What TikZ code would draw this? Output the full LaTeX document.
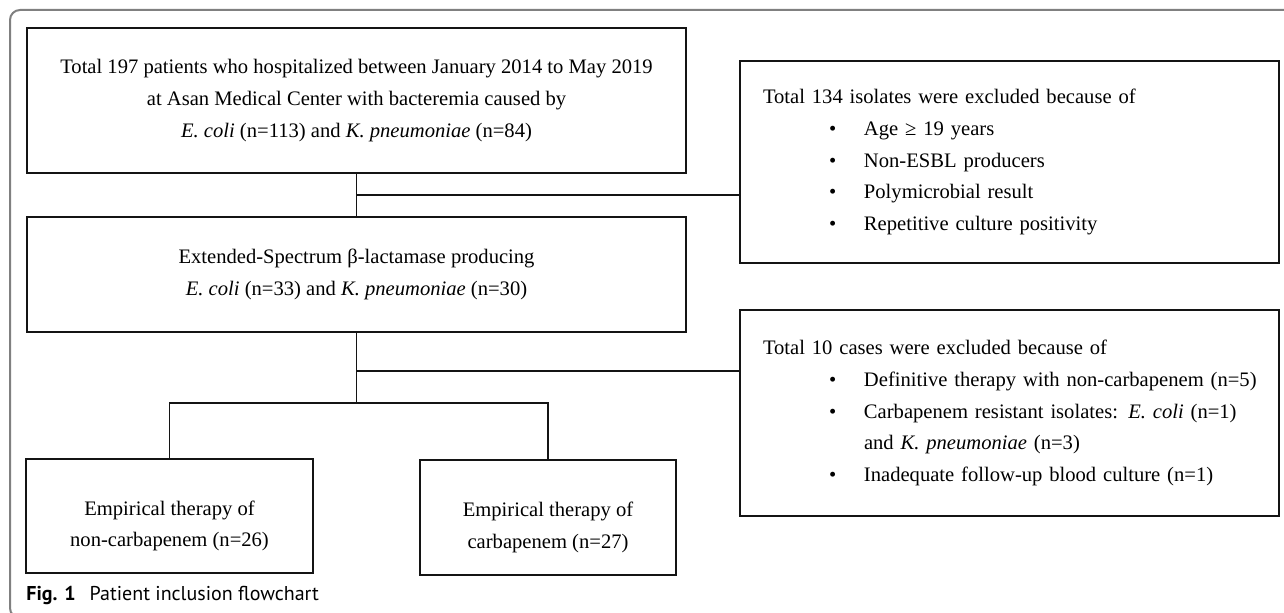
\documentclass[tikz,border=0pt]{standalone}
\usepackage{fontspec}
\setmainfont{Liberation Serif}
\newfontfamily\capfont{PT Sans}
\definecolor{boxcol}{HTML}{141414}
\definecolor{framecol}{HTML}{808080}
\newcommand{\myitem}[1]{\mbox{\makebox[50.5pt][l]{\hspace*{33pt}\textbullet}#1}}
\begin{document}
\begin{tikzpicture}[x=0.5pt,y=-0.5pt,
  txt/.style={font=\fontsize{10.3}{15.9}\selectfont},
  box/.style={draw=boxcol, line width=1.35pt, inner sep=0pt, txt},
  cbox/.style={box, align=center},
  lbox/.style={box, align=left, inner xsep=11.5pt, text width=246.5pt,
    minimum width=269.5pt},
  link/.style={draw=boxcol, line width=0.85pt}]
\clip (0,0) rectangle (1284,613);
\useasboundingbox (0,0) rectangle (1284,613);
\draw[framecol, line width=1pt, rounded corners=5pt] (1300,10) -- (10,10) -- (10,618) -- (1300,618);

\node[cbox, minimum width=329.5pt, minimum height=72.5pt] (b1) at (356.5,100.5)
  {Total 197 patients who hospitalized between January 2014 to May 2019\\
   at Asan Medical Center with bacteremia caused by\\
   \textit{E. coli} (n=113) and \textit{K. pneumoniae} (n=84)};
\node[cbox, minimum width=329.5pt, minimum height=57.5pt] (b2) at (356.5,274.5)
  {Extended-Spectrum β-lactamase producing\\
   \textit{E. coli} (n=33) and \textit{K. pneumoniae} (n=30)};
\node[lbox, minimum height=101pt] (r1) at (1009.5,162)
  {Total 134 isolates were excluded because of\\
   \myitem{Age ≥ 19 years}\\
   \myitem{Non-ESBL producers}\\
   \myitem{Polymicrobial result}\\
   \myitem{Repetitive culture positivity}};
\node[lbox, minimum height=103pt] (r2) at (1009.5,413)
  {Total 10 cases were excluded because of\\
   \myitem{Definitive therapy with non-carbapenem (n=5)}\\
   \myitem{Carbapenem resistant isolates: \textit{E. coli} (n=1)}\\
   \mbox{\hspace*{50.5pt}and \textit{K. pneumoniae} (n=3)}\\
   \myitem{Inadequate follow-up blood culture (n=1)}};
\node[box, minimum width=143.5pt, minimum height=57pt] (b3) at (169.5,516) {};
\node[txt, align=center, inner sep=0pt] (b3t) at (169.5,526)
  {Empirical therapy of\\ non-carbapenem (n=26)};
\node[box, minimum width=128pt, minimum height=57.5pt] (b4) at (548,517.5) {};
\node[txt, align=center, inner sep=0pt] (b4t) at (548,527.5)
  {Empirical therapy of\\ carbapenem (n=27)};

\coordinate (j1) at (b1.south |- 0,195);
\coordinate (j2) at (b2.south |- 0,371);
\coordinate (br) at (b2.south |- 0,403);

\draw[link] (b1.south) -- (b2.north);
\draw[link] (j1) -- (j1 -| r1.west);
\draw[link] (b2.south) -- (br);
\draw[link] (j2) -- (j2 -| r2.west);
\draw[link] (b3.north) -- (b3.north |- br) -- (b4.north |- br) -- (b4.north);

\node[anchor=base west, inner sep=0pt, font=\capfont\fontsize{10}{12}\selectfont] (cap) at (26,601)
  {\textbf{Fig. 1}\hspace{0.7em}Patient inclusion flowchart};
\end{tikzpicture}
\end{document}
